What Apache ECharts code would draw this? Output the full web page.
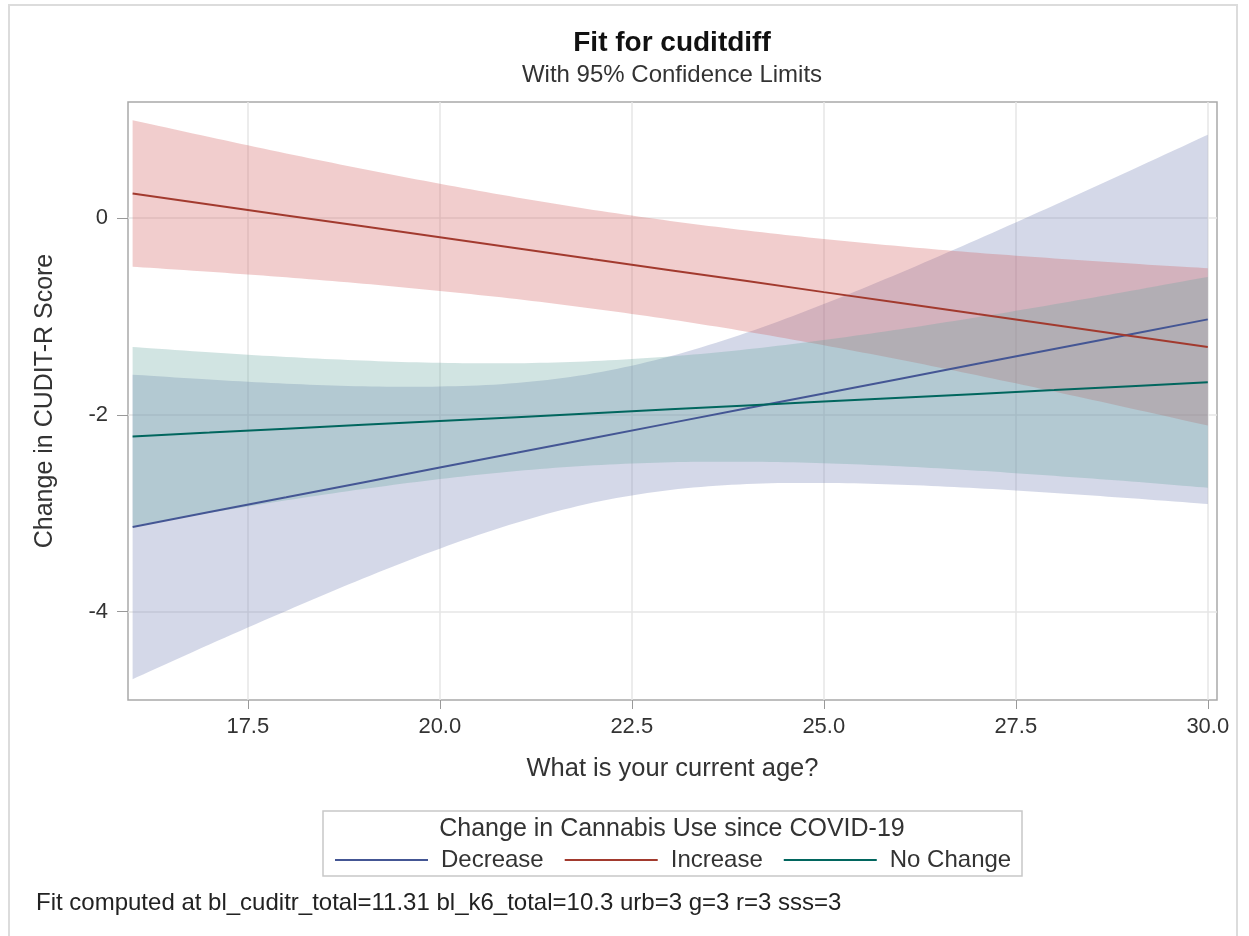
<!DOCTYPE html>
<html><head><meta charset="utf-8">
<script src="https://cdn.jsdelivr.net/npm/echarts@6/dist/echarts.min.js"></script>
<style>html,body{margin:0;padding:0;background:#fff}#c{width:1249px;height:936px}</style>
</head><body><div id="c"></div>
<script>
// ---- data ----
const ages = [16,17,18,19,20,21,22,23,24,25,26,27,28,29,30];
const xTicks = [17.5,20,22.5,25,27.5,30];
const yTicks = [-4,-2,0];
const groups = ['Decrease','Increase','No Change'];

const decreaseFit   = [-3.140,-2.989,-2.839,-2.688,-2.537,-2.387,-2.236,-2.085,-1.934,-1.784,-1.633,-1.482,-1.332,-1.181,-1.030];
const decreaseUpper = [-1.592,-1.642,-1.684,-1.711,-1.713,-1.677,-1.579,-1.405,-1.164,-0.875,-0.555,-0.217,0.131,0.487,0.847];
const decreaseLower = [-4.688,-4.336,-3.994,-3.665,-3.361,-3.097,-2.893,-2.765,-2.704,-2.693,-2.711,-2.747,-2.795,-2.849,-2.907];

const increaseFit   = [0.250,0.139,0.027,-0.084,-0.196,-0.307,-0.419,-0.530,-0.641,-0.753,-0.864,-0.976,-1.087,-1.199,-1.310];
const increaseUpper = [0.995,0.824,0.657,0.499,0.349,0.210,0.083,-0.029,-0.127,-0.213,-0.287,-0.353,-0.410,-0.463,-0.510];
const increaseLower = [-0.495,-0.546,-0.603,-0.667,-0.741,-0.824,-0.921,-1.031,-1.155,-1.293,-1.441,-1.599,-1.764,-1.935,-2.110];

const noChangeFit   = [-2.220,-2.181,-2.141,-2.102,-2.063,-2.024,-1.984,-1.945,-1.906,-1.866,-1.827,-1.788,-1.749,-1.709,-1.670];
const noChangeUpper = [-1.310,-1.365,-1.412,-1.449,-1.472,-1.476,-1.454,-1.407,-1.335,-1.240,-1.130,-1.008,-0.877,-0.740,-0.598];
const noChangeLower = [-3.130,-2.997,-2.870,-2.755,-2.654,-2.572,-2.514,-2.483,-2.477,-2.492,-2.524,-2.568,-2.621,-2.678,-2.742];

// ---- styling ----
const FONT = "'Liberation Sans', Arial, sans-serif";
const lineColors = ['#445694','#A23A2E','#01665E'];
const bandColors = ['#6F7EB3','#D05B5B','#66A5A0'];
const fits = [decreaseFit, increaseFit, noChangeFit];
const uppers = [decreaseUpper, increaseUpper, noChangeUpper];
const lowers = [decreaseLower, increaseLower, noChangeLower];

// smooth a pixel polyline (Catmull-Rom) for rendering only
function smoothPixels(pts, steps) {
  const out = [];
  const n = pts.length;
  for (let i = 0; i < n - 1; i++) {
    const p0 = pts[Math.max(i - 1, 0)], p1 = pts[i], p2 = pts[i + 1], p3 = pts[Math.min(i + 2, n - 1)];
    for (let s = 0; s < steps; s++) {
      const t = s / steps, t2 = t * t, t3 = t2 * t;
      const f = (a, b, c, d) => 0.5 * (2 * b + (-a + c) * t + (2 * a - 5 * b + 4 * c - d) * t2 + (-a + 3 * b - 3 * c + d) * t3);
      out.push([f(p0[0], p1[0], p2[0], p3[0]), f(p0[1], p1[1], p2[1], p3[1])]);
    }
  }
  out.push(pts[n - 1]);
  return out;
}

const series = [];
groups.forEach((g, i) => {
  series.push({
    name: g + ' 95% CL', type: 'custom', silent: true, clip: true,
    data: [[ages[0], uppers[i][0]]],
    renderItem: function (params, api) {
      const up = ages.map((a, k) => api.coord([a, uppers[i][k]]));
      const lo = ages.map((a, k) => api.coord([a, lowers[i][k]]));
      const pts = smoothPixels(up, 10).concat(smoothPixels(lo, 10).reverse());
      return { type: 'polygon', shape: { points: pts }, style: { fill: bandColors[i], opacity: 0.3 } };
    }
  });
});
groups.forEach((g, i) => {
  series.push({
    name: g, type: 'line', symbol: 'none', smooth: false,
    data: ages.map((a, k) => [a, fits[i][k]]),
    lineStyle: { color: lineColors[i], width: 2 }, itemStyle: { color: lineColors[i] }
  });
});

const chart = echarts.init(document.getElementById('c'), null, { renderer: 'canvas' });
chart.setOption({
  animation: false,
  backgroundColor: '#fff',
  textStyle: { fontFamily: FONT },
  grid: { left: 128, right: 32, top: 102, bottom: 236, show: true, borderColor: '#a9a9a9', borderWidth: 1.5, containLabel: false },
  xAxis: {
    type: 'value', min: 15.94, max: 30.12,
    name: 'What is your current age?', nameLocation: 'middle', nameGap: 56,
    nameTextStyle: { fontSize: 25.5, color: '#333', fontFamily: FONT },
    axisLine: { show: false, onZero: false },
    axisTick: { show: true, customValues: xTicks, length: 9, lineStyle: { color: '#999' } },
    axisLabel: { customValues: xTicks, formatter: v => Number(v).toFixed(1), fontSize: 22, color: '#333', margin: 16, fontFamily: FONT },
    splitLine: { show: true, lineStyle: { color: '#e6e6e6', width: 1.5 } }
  },
  yAxis: {
    type: 'value', min: -4.9, max: 1.18,
    name: 'Change in CUDIT-R Score', nameLocation: 'middle', nameGap: 70, nameRotate: 90,
    nameTextStyle: { fontSize: 25, color: '#333', fontFamily: FONT },
    axisLine: { show: false, onZero: false },
    axisTick: { show: true, customValues: yTicks, length: 11, lineStyle: { color: '#999' } },
    axisLabel: { customValues: yTicks, formatter: v => String(v), fontSize: 22, color: '#333', margin: 20, fontFamily: FONT },
    splitLine: { show: true, lineStyle: { color: '#e6e6e6', width: 1.5 } }
  },
  legend: {
    data: groups, left: 335, top: 848, padding: 0, itemWidth: 93, itemHeight: 2, itemGap: 21,
    icon: 'rect',
    textStyle: { fontSize: 24, color: '#333', fontFamily: FONT, padding: [0, 0, 0, 8] },
    selectedMode: false
  },
  graphic: [
    { type: 'rect', shape: { x: 9, y: 5, width: 1228, height: 945 }, style: { fill: 'none', stroke: '#dcdcdc', lineWidth: 2 }, silent: true },
    { type: 'text', x: 672, y: 43, style: { text: 'Fit for cuditdiff', font: "bold 28px 'Liberation Sans', Arial, sans-serif", fill: '#111', textAlign: 'center', textVerticalAlign: 'middle' } },
    { type: 'text', x: 672, y: 75, style: { text: 'With 95% Confidence Limits', font: "24px 'Liberation Sans', Arial, sans-serif", fill: '#333', textAlign: 'center', textVerticalAlign: 'middle' } },
    { type: 'rect', shape: { x: 323, y: 811, width: 699, height: 65 }, style: { fill: 'none', stroke: '#c8c8c8', lineWidth: 1.5 }, silent: true },
    { type: 'text', x: 672, y: 829, style: { text: 'Change in Cannabis Use since COVID-19', font: "25px 'Liberation Sans', Arial, sans-serif", fill: '#333', textAlign: 'center', textVerticalAlign: 'middle' } },
    { type: 'text', x: 36, y: 903, style: { text: 'Fit computed at bl_cuditr_total=11.31 bl_k6_total=10.3 urb=3 g=3 r=3 sss=3', font: "24px 'Liberation Sans', Arial, sans-serif", fill: '#222', textAlign: 'left', textVerticalAlign: 'middle' } }
  ],
  series: series
});
</script>
</body></html>
